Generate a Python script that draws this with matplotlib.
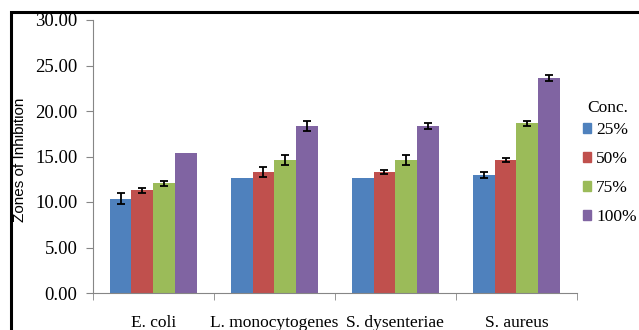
import matplotlib
matplotlib.use("Agg")
import matplotlib.pyplot as plt
import numpy as np
from matplotlib.patches import Rectangle, Patch

# zones of inhibition per organism and concentration
organisms = ["E. coli", "L. monocytogenes", "S. dysenteriae", "S. aureus"]
conc_labels = ["25%", "50%", "75%", "100%"]
conc_25 = [10.35, 12.65, 12.65, 12.95]
conc_50 = [11.30, 13.30, 13.30, 14.62]
conc_75 = [12.05, 14.62, 14.62, 18.65]
conc_100 = [15.35, 18.35, 18.35, 23.65]
err_25 = [0.60, 0.0, 0.0, 0.30]
err_50 = [0.27, 0.60, 0.25, 0.27]
err_75 = [0.27, 0.55, 0.50, 0.30]
err_100 = [0.0, 0.55, 0.28, 0.30]

colors = ["#4F81BD", "#C0504D", "#9BBB59", "#8064A2"]
serif = "Liberation Serif"
fs = 12.5

fig = plt.figure(figsize=(6.39, 3.30), dpi=100)
ax = fig.add_axes([92.7 / 639, 37 / 330, (577 - 92.7) / 639, 273 / 330])

x = np.arange(len(organisms))
w = 0.18
series = [conc_25, conc_50, conc_75, conc_100]
errs = [err_25, err_50, err_75, err_100]
for i, (vals, e) in enumerate(zip(series, errs)):
    pos = x + (i - 1.5) * w
    ax.bar(pos, vals, w, color=colors[i], label=conc_labels[i], zorder=2)
    e = np.array(e)
    m = e > 0
    ax.errorbar(pos[m], np.array(vals)[m], yerr=e[m], fmt="none", ecolor="black",
                elinewidth=1.3, capsize=3, capthick=1.3, zorder=3)

ax.set_xlim(-0.5, 3.5)
ax.set_ylim(0, 30)
ax.set_yticks(np.arange(0, 31, 5))
ax.set_yticklabels([f"{v:.2f}" for v in np.arange(0, 31, 5)], fontfamily=serif, fontsize=13.5)
ax.set_xticks(x)
ax.set_xticklabels(organisms, fontfamily=serif, fontsize=fs)
ax.set_xticks(np.arange(-0.5, 4, 1), minor=True)
ax.tick_params(axis="x", which="major", length=0, pad=16)
ax.tick_params(axis="x", which="minor", length=5, color="#868686")
ax.tick_params(axis="y", length=5, color="#868686", pad=6)
for s in ["top", "right"]:
    ax.spines[s].set_visible(False)
for s in ["left", "bottom"]:
    ax.spines[s].set_color("#868686")

fig.text(20 / 639, 1 - 160 / 330, "Zones of Inhibition", rotation=90, ha="center", va="center",
         fontfamily="Liberation Sans", fontsize=11)

# legend: title drawn as separate text so it sits closer to the entries
handles = [Patch(color=c) for c in colors]
fig.legend(handles, conc_labels, loc="upper left",
           bbox_to_anchor=(583 / 639, 1 - 122 / 330), frameon=False,
           prop={"family": serif, "size": fs}, handlelength=0.47, handleheight=0.47,
           handletextpad=0.3, labelspacing=0.75, borderaxespad=0, borderpad=0)
fig.text(608 / 639, 1 - 108 / 330, "Conc.", ha="center", va="center",
         fontfamily=serif, fontsize=fs)

# thick outer frame, cut off on the right and bottom
fig.add_artist(Rectangle((11 / 639, -0.2), 1.2, 1.2 - 11.5 / 330, transform=fig.transFigure,
                         fill=False, edgecolor="black", linewidth=2.2))

fig.savefig("out.png", dpi=100)
